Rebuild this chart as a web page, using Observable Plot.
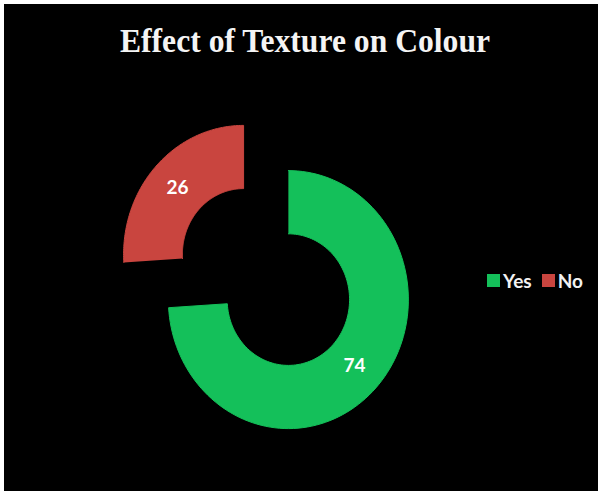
<!DOCTYPE html>
<html>
<head>
<meta charset="utf-8">
<script src="https://cdn.jsdelivr.net/npm/d3@7"></script>
<script src="https://cdn.jsdelivr.net/npm/@observablehq/plot@0.6"></script>
<style>
  html, body { margin: 0; padding: 0; background: #ffffff; }
  #frame { position: absolute; left: 4px; top: 4px; width: 594px; height: 487px; background: #000; overflow: hidden; }
  #title { position: absolute; left: 0; top: 20px; width: 602px; text-align: center;
           font-family: "Liberation Serif", "DejaVu Serif", serif; font-weight: bold; font-size: 34px;
           color: #f4f4f4; transform: scaleX(0.93); transform-origin: 301px 0; line-height: 1; white-space: nowrap; }
  #chart { position: absolute; left: 0; top: 0; }
  #legend { position: absolute; left: 483px; top: 265px; font-family: Lato, "Open Sans", sans-serif;
            font-weight: bold; font-size: 19px; color: #f2f2f2; display: flex; align-items: center; white-space: nowrap; }
  .sw { display: inline-block; width: 13px; height: 13px; margin-right: 3px; }
  .item { display: flex; align-items: center; margin-right: 10px; }
</style>
</head>
<body>
<div id="frame">
  <div id="chart"></div>
  <div id="title">Effect of Texture on Colour</div>
  <div id="legend"></div>
</div>
<script>
// Data
const categories = ["Yes", "No"];
const values = [74, 26];
const colors = ["#14c05a", "#c9453f"];
const chartTitle = "Effect of Texture on Colour";

// Donut geometry (in units of the outer radius)
const innerRatio = 0.51;
const explode = 0.256;

const pie = d3.pie().sort(null).value(d => d.value);
const arcs = pie(categories.map((c, i) => ({category: c, value: values[i]})));

const pts = [];
const labels = [];
for (const a of arcs) {
  const mid = (a.startAngle + a.endAngle) / 2;
  const cx = explode * Math.sin(mid), cy = explode * Math.cos(mid);
  const n = 120;
  for (let k = 0; k <= n; k++) {
    const t = a.startAngle + (a.endAngle - a.startAngle) * k / n;
    pts.push({category: a.data.category, u: cx + Math.sin(t), v: cy + Math.cos(t)});
  }
  for (let k = n; k >= 0; k--) {
    const t = a.startAngle + (a.endAngle - a.startAngle) * k / n;
    pts.push({category: a.data.category, u: cx + innerRatio * Math.sin(t), v: cy + innerRatio * Math.cos(t)});
  }
  const rm = (1 + innerRatio) / 2;
  labels.push({category: a.data.category, value: a.data.value, u: cx + rm * Math.sin(mid), v: cy + rm * Math.cos(mid)});
}

const chart = Plot.plot({
  width: 594,
  height: 487,
  margin: 0,
  style: {background: "black", overflow: "visible"},
  x: {domain: [-2.179, 2.771], axis: null},
  y: {domain: [-1.6628, 2.1124], axis: null},
  color: {domain: categories, range: colors},
  marks: [
    Plot.line(pts, {x: "u", y: "v", z: "category", fill: "category", stroke: "category", strokeWidth: 1, curve: "linear"}),
    Plot.text(labels, {x: "u", y: "v", text: d => String(d.value), fill: "white",
      fontFamily: "Lato, 'Open Sans', sans-serif", fontWeight: "bold", fontSize: 19})
  ]
});
document.getElementById("chart").appendChild(chart);
document.getElementById("title").textContent = chartTitle;

const legend = document.getElementById("legend");
categories.forEach((c, i) => {
  const item = document.createElement("span");
  item.className = "item";
  const sw = document.createElement("span");
  sw.className = "sw";
  sw.style.background = colors[i];
  item.appendChild(sw);
  item.appendChild(document.createTextNode(c));
  legend.appendChild(item);
});
</script>
</body>
</html>
